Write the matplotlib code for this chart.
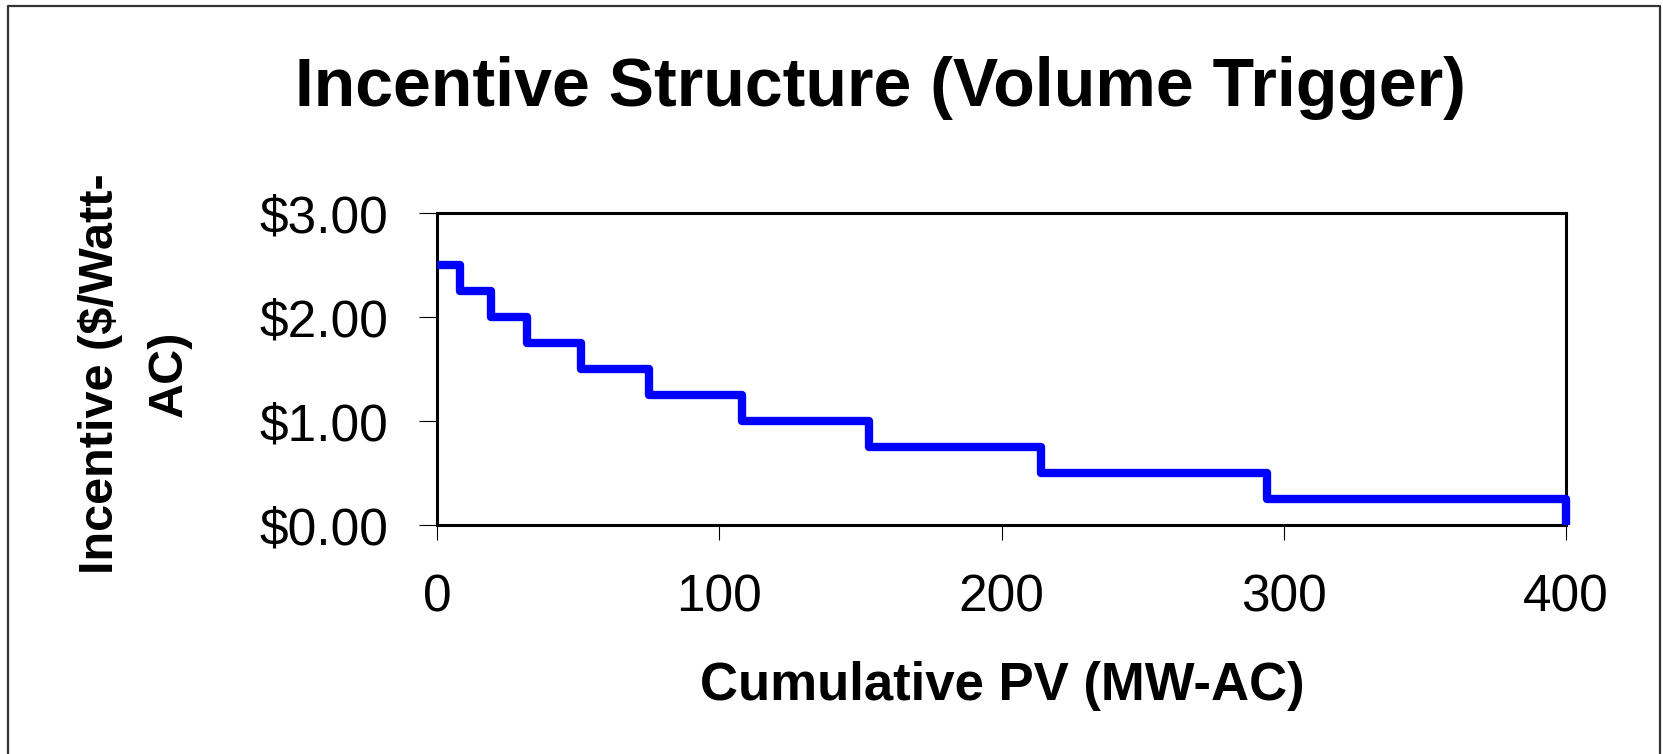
import matplotlib
matplotlib.use("Agg")
import matplotlib.pyplot as plt
from matplotlib.lines import Line2D

# step edges (MW-AC) and incentive level on each step ($/W-AC)
step_edges = [0, 8, 19, 32, 51, 75, 108, 153, 214, 294, 400]
incentive = [2.50, 2.25, 2.00, 1.75, 1.50, 1.25, 1.00, 0.75, 0.50, 0.25]
x_ticks = [0, 100, 200, 300, 400]
y_ticks = [0, 1, 2, 3]
y_tick_labels = ["$0.00", "$1.00", "$2.00", "$3.00"]

W, H = 1663, 754
fig = plt.figure(figsize=(W / 100, H / 100), dpi=100)
plt.rcParams["font.family"] = ["Liberation Sans", "DejaVu Sans"]

ax = fig.add_axes([437 / W, 1 - 525 / H, (1566 - 437) / W, (525 - 213) / H])

# build the step path, then drop to zero at the last edge
xs = list(step_edges) + [step_edges[-1]]
ys = list(incentive) + [incentive[-1], 0]
ax.step(xs, ys, where="post", color="#0000ff", lw=6, clip_on=False,
        solid_joinstyle="round", solid_capstyle="butt", zorder=3)

ax.set_xlim(0, 400)
ax.set_ylim(0, 3)
ax.set_xticks(x_ticks)
ax.set_yticks(y_ticks)
ax.set_yticklabels(y_tick_labels)
ax.tick_params(axis="y", direction="out", length=13, width=0.8, pad=22,
               labelsize=37)
ax.tick_params(axis="x", direction="out", length=11, width=0.8, pad=24,
               labelsize=37)
for s in ax.spines.values():
    s.set_linewidth(2.2)
    s.set_color("black")

fig.text(880 / W, 1 - 88 / H, "Incentive Structure (Volume Trigger)",
         ha="center", va="center", fontsize=49, fontweight="bold")
fig.text(1002 / W, 1 - 686 / H, "Cumulative PV (MW-AC)",
         ha="center", va="center", fontsize=38, fontweight="bold")
fig.text(135 / W, 1 - 374 / H, "Incentive ($/Watt-\nAC)", rotation=90,
         ha="center", va="center", multialignment="center",
         fontsize=35, fontweight="bold", linespacing=1.7)

# outer chart frame (left, top, right)
fx0, fx1, fy1 = 8 / W, 1660 / W, 1 - 6 / H
fig.add_artist(Line2D([fx0, fx0, fx1, fx1], [0, fy1, fy1, 0],
                      transform=fig.transFigure, color="#333333", lw=1.6))

fig.savefig("out.png", dpi=100)
